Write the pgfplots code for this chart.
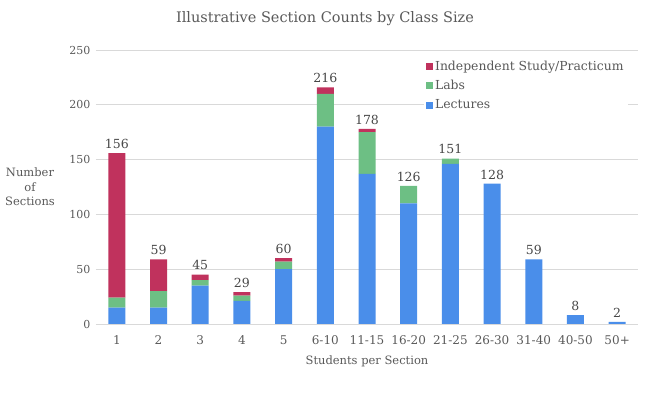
\documentclass[border=0pt]{standalone}
\usepackage{pgfplots}
\pgfplotsset{compat=1.18}
\usepackage{pgfplotstable}
\usepackage{fontspec}
\setmainfont{DejaVu Serif}
\definecolor{cInd}{HTML}{C0325D}
\definecolor{cLab}{HTML}{6DBF84}
\definecolor{cLec}{HTML}{4A8EEA}
\definecolor{txt}{HTML}{595959}
\definecolor{gridc}{HTML}{D9D9D9}
\pgfplotstableread{
x lec lab ind tot
0 15 9 132 156
1 15 15 29 59
2 35 5 5 45
3 21 5 3 29
4 50 7 3 60
5 180 30 6 216
6 137 38 3 178
7 110 16 0 126
8 146 5 0 151
9 128 0 0 128
10 59 0 0 59
11 8 0 0 8
12 2 0 0 2
}\data
\pgfplotsset{common/.style={
  at={(0,0)}, anchor=south west,
  scale only axis, width=542pt, height=274pt,
  xmin=-0.5, xmax=12.5, ymin=0, ymax=250,
  /pgf/number format/assume math mode=true,
}}
\begin{document}
\begin{tikzpicture}
\useasboundingbox (-96pt,-69pt) rectangle (551pt,324pt);
\begin{axis}[
  common,
  ybar stacked, bar width=17pt,
  ytick={0,50,...,250},
  xtick={0,...,12},
  xticklabels={1,2,3,4,5,6-10,11-15,16-20,21-25,26-30,31-40,40-50,50+},
  axis lines*=left,
  x axis line style={draw=gridc, line width=0.8pt},
  y axis line style={draw=none},
  ymajorgrids, grid style={draw=gridc, line width=0.8pt},
  major tick length=0pt,
  tick label style={font=\fontsize{11}{13}\selectfont, text=txt},
  xticklabel style={anchor=base, yshift=-20.5pt, font=\fontsize{12}{13}\selectfont},
  yticklabel style={xshift=-2pt},
  every axis x label/.style={at={(axis description cs:0.5,0)}, anchor=center, yshift=-37pt, font=\fontsize{11.5}{13}\selectfont, text=txt},
  every axis y label/.style={at={(axis description cs:0,0.5)}, anchor=center, xshift=-66pt, align=center, font=\fontsize{11.5}{14.5}\selectfont, text=txt},
  xlabel={Students per Section},
  ylabel={Number\\of\\Sections},
  reverse legend,
  legend cell align=left,
  legend style={at={(rel axis cs:0.605,0.975)}, anchor=north west, draw=none, fill=white,
    font=\fontsize{12.4}{14}\selectfont, text=txt, row sep=4.5pt, inner sep=2pt},
  legend image code/.code={\fill[#1] (0pt,-3.5pt) rectangle (7pt,3.5pt);},
]
\addplot[fill=cLec, draw=none] table[x=x,y=lec]{\data};
\addlegendentry{Lectures}
\addplot[fill=cLab, draw=none] table[x=x,y=lab]{\data};
\addlegendentry{Labs}
\addplot[fill=cInd, draw=none] table[x=x,y=ind]{\data};
\addlegendentry{Independent Study/Practicum}
\end{axis}
\begin{axis}[
  common, hide axis,
  nodes near coords style={font=\fontsize{12.5}{15}\selectfont, text=black!72, anchor=south, yshift=1pt},
]
\addplot[only marks, mark=none, draw=none, nodes near coords, point meta=y] table[x=x,y=tot]{\data};
\end{axis}
\node[font=\fontsize{14.5}{17}\selectfont, text=txt] at (229pt,305.5pt) {Illustrative Section Counts by Class Size};
\end{tikzpicture}
\end{document}
